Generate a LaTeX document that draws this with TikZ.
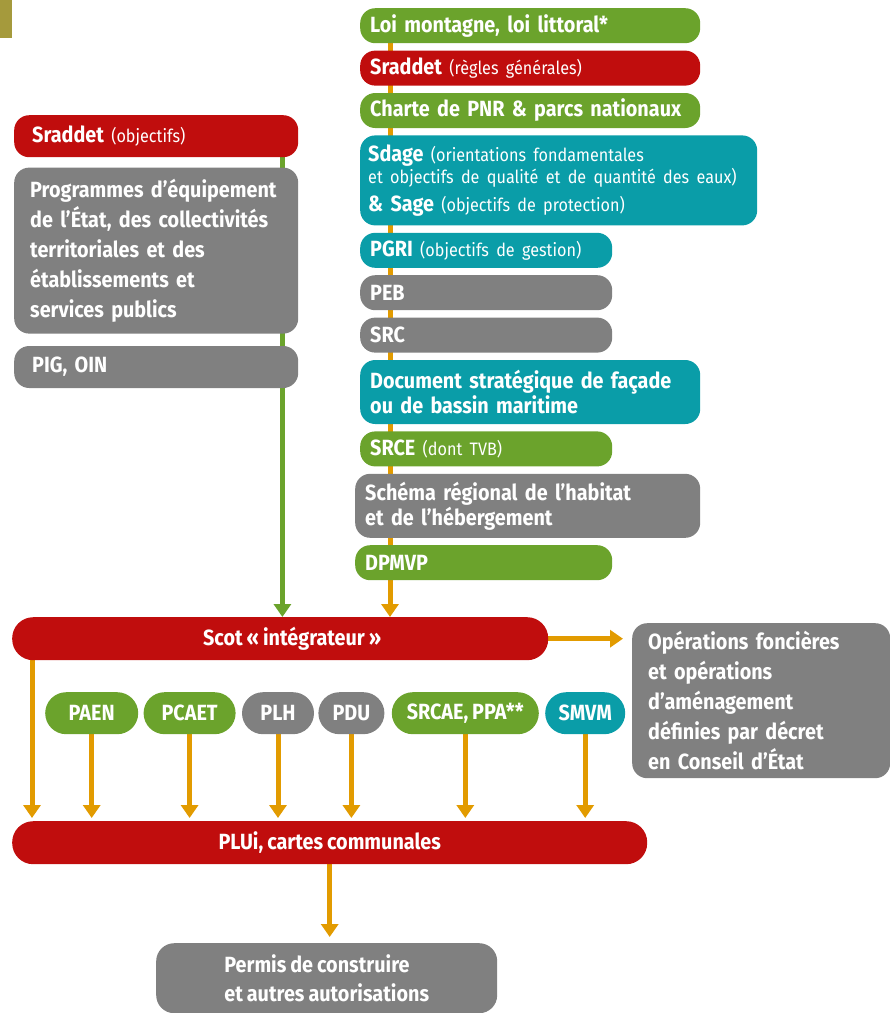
\documentclass[tikz,border=0pt]{standalone}
\usepackage{fontspec}
\setmainfont{Fira Sans}[FakeStretch=0.9, WordSpace=0.85]
\usepackage{tikz}
\usetikzlibrary{arrows.meta,positioning,backgrounds}
\definecolor{plRed}{HTML}{C00D0D}
\definecolor{plGreen}{HTML}{6BA32C}
\definecolor{plTeal}{HTML}{0A9DA8}
\definecolor{plGray}{HTML}{808080}
\definecolor{plOrange}{HTML}{E29B00}
\definecolor{plOlive}{HTML}{A59A3C}
\newcommand\detail[1]{{\fontsize{18}{21}\selectfont\mdseries #1}}
\tikzset{
  doc/.style={rounded corners=15pt, text=white, align=left, anchor=north west,
    inner xsep=10pt, inner ysep=0pt, minimum height=35pt,
    font=\fontsize{22}{25}\selectfont\bfseries},
  rouge/.style={doc, fill=plRed},
  vert/.style={doc, fill=plGreen},
  bleu/.style={doc, fill=plTeal},
  gris/.style={doc, fill=plGray},
  suite/.style={below=7pt of #1.south west, anchor=north west},
  pill/.style={doc, fill=#1, rounded corners=21pt, minimum height=42pt, inner xsep=0pt, align=center},
  fleche/.style={draw=plOrange, line width=5pt, -{Triangle[width=17pt,length=13pt]}},
}

\begin{document}
\begin{tikzpicture}[x=1pt, y=-1pt]
\useasboundingbox (0,0) rectangle (890,1013);
\fill[plOlive] (0,0) rectangle (12,38);
% right column
\node[vert, text width=320pt] (loi) at (360,8) {Loi montagne, loi littoral*};
\node[rouge, text width=320pt, suite=loi] (srR) {Sraddet \detail{(règles générales)}};
\node[vert, text width=320pt, suite=srR] (pnr) {Charte de PNR \& parcs nationaux};
\node[bleu, text width=381pt, inner xsep=8pt, minimum height=90pt, suite=pnr] (sdage)
  {Sdage \detail{(orientations fondamentales}\\[-3pt]
   \detail{et objectifs de qualité et de quantité des eaux)}\\[3pt]
   \& Sage \detail{(objectifs de protection)}};
\node[bleu, text width=232pt, suite=sdage] (pgri) {PGRI \detail{(objectifs de gestion)}};
\node[gris, text width=232pt, suite=pgri] (peb) {PEB};
\node[gris, text width=232pt, suite=peb] (src) {SRC};
\node[bleu, text width=320pt, minimum height=64pt, suite=src] (dsf)
  {Document stratégique de façade\\ou de bassin maritime};
\node[vert, text width=232pt, suite=dsf] (srce) {SRCE \detail{(dont TVB)}};
\node[gris, text width=325pt, minimum height=64pt, suite=srce, xshift=-5pt] (srhh)
  {Schéma régional de l’habitat\\et de l’hébergement};
\node[vert, text width=237pt, suite=srhh] (dpmvp) {DPMVP};
% left column
\node[rouge, text width=248pt, inner xsep=18pt, minimum height=42pt] (srO) at (14,115)
  {Sraddet \detail{(objectifs)}};
\node[gris, text width=252pt, inner xsep=16pt, minimum height=166pt, below=10pt of srO.south west,
  anchor=north west, font=\fontsize{22}{30}\selectfont\bfseries] (prog)
  {Programmes d’équipement\\de l’État, des collectivités\\territoriales et des\\établissements et\\services publics};
\node[gris, text width=248pt, inner xsep=18pt, minimum height=42pt, below=12pt of prog.south west,
  anchor=north west] (pig) {PIG, OIN};
% Scot and the plans below it
\node[rouge, minimum width=536pt, minimum height=43pt, rounded corners=21pt, align=center] (scot) at (12,617)
  {\hspace*{24pt}Scot « intégrateur »};
\node[gris, text width=226pt, inner xsep=16pt, minimum height=155pt,
  font=\fontsize{22}{30}\selectfont\bfseries] (ops) at (632,623)
  {Opérations foncières\\et opérations\\d’aménagement\\définies par décret\\en Conseil d’État};
\node[pill=plGreen, minimum width=93pt] (paen) at (45,692) {PAEN};
\node[pill=plGreen, minimum width=92pt, right=5pt of paen] (pcaet) {PCAET};
\node[pill=plGray, minimum width=72pt, right=6pt of pcaet] (plh) {PLH};
\node[pill=plGray, minimum width=66pt, right=4pt of plh] (pdu) {PDU};
\node[pill=plGreen, minimum width=147pt, right=7pt of pdu] (srcae) {SRCAE, PPA**};
\node[pill=plTeal, minimum width=80pt, right=6pt of srcae] (smvm) {SMVM};
\node[rouge, minimum width=635pt, minimum height=43pt, rounded corners=21pt, align=center] (plui) at (12,821)
  {PLUi, cartes communales};
\node[gris, minimum width=341pt, minimum height=70pt, rounded corners=18pt,
  font=\fontsize{22}{29}\selectfont\bfseries] (permis) at (156,943)
  {Permis de construire\\et autres autorisations};
% connectors
\begin{scope}[on background layer]
\draw[fleche, draw=plGreen] ([xshift=-16pt]srO.south east) -- ([xshift=-16pt]srO.south east |- scot.north);
\draw[fleche] ([xshift=30pt]loi.south west) -- ([xshift=30pt]loi.south west |- scot.north);
\draw[fleche, shorten >=9pt] (scot.east) -- (scot.east -| ops.west);
\draw[fleche, shorten >=3pt] ([xshift=20pt]scot.south west) -- ([xshift=20pt]scot.south west |- plui.north);
\foreach \n in {paen,pcaet,plh,pdu,srcae,smvm}
  \draw[fleche, shorten >=3pt] (\n.south) -- (\n.south |- plui.north);
\draw[fleche, shorten >=6pt] (plui.south) -- (plui.south |- permis.north);
\end{scope}
\end{tikzpicture}
\end{document}
